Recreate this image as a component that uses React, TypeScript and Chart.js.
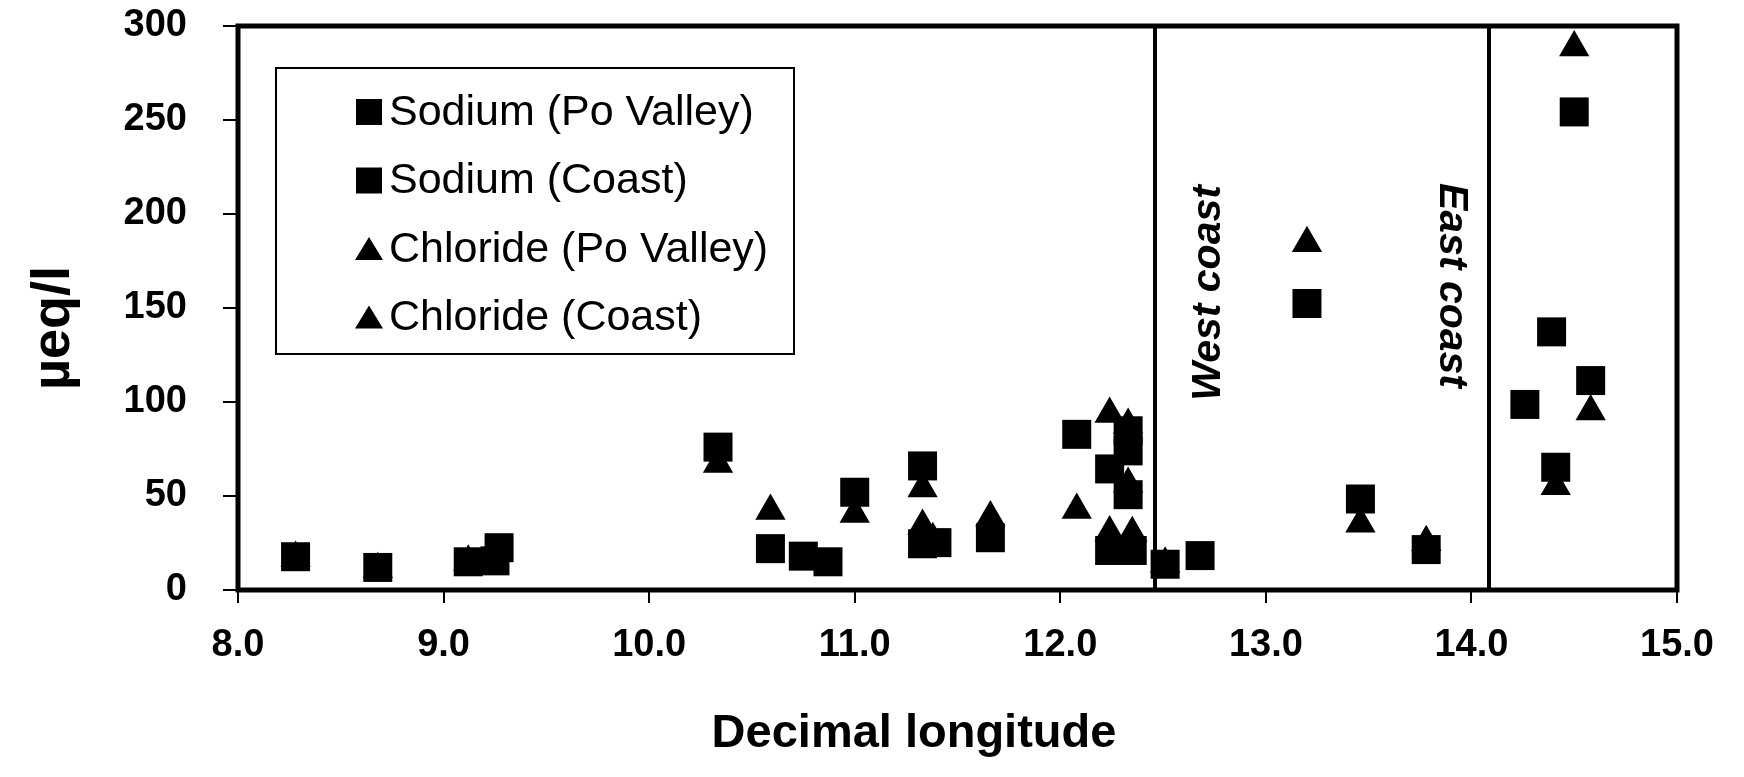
import React, { useEffect, useRef } from 'react';
import { Chart, registerables } from 'chart.js';

Chart.register(...registerables);

const FONT = '"Liberation Sans", Arial, Helvetica, sans-serif';

// Tick values
const X_TICKS = [8, 9, 10, 11, 12, 13, 14, 15];
const Y_TICKS = [0, 50, 100, 150, 200, 250, 300];

// Series: Sodium (Po Valley)
const sodiumPoX = [8.28, 8.68, 9.12, 9.27, 9.25, 10.335, 10.59, 10.75, 10.87, 11.0, 11.33, 11.33, 11.40, 11.66, 12.08, 12.24, 12.24, 12.33, 12.33, 12.33, 12.35];
const sodiumPoY = [17.7, 12, 15, 22.5, 15.5, 76, 22, 18, 15, 52, 66, 24.6, 25.2, 27.8, 82.8, 64.4, 21, 84.7, 74, 50.7, 21];

// Series: Sodium (Coast)
const sodiumCoastX = [12.51, 12.68, 13.2, 13.46, 13.78, 14.26, 14.39, 14.41, 14.5, 14.58];
const sodiumCoastY = [13.7, 18.3, 152.4, 48.4, 21.5, 98.7, 137.3, 65.3, 254.3, 111.4];

// Series: Chloride (Po Valley)
const chloridePoX = [8.28, 8.68, 9.12, 10.335, 10.59, 11.0, 11.33, 11.33, 11.38, 11.66, 12.08, 12.24, 12.33, 12.33, 12.24, 12.35];
const chloridePoY = [17, 11, 15, 67, 42, 40.4, 54, 34, 27, 38.6, 42.5, 93.6, 87.8, 56.4, 30.6, 30.2];

// Series: Chloride (Coast)
const chlorideCoastX = [12.51, 13.2, 13.46, 13.78, 14.41, 14.5, 14.58];
const chlorideCoastY = [14, 184.4, 35.2, 25.4, 55.2, 288.6, 94.9];

// Region dividers and annotations
const DIVIDERS = [12.46, 14.085];
const REGION_LABELS = ['West coast', 'East coast'];
const REGION_LABEL_X = [12.72, 13.9];
const REGION_LABEL_Y = [158, 162];

const SERIES_LABELS = ['Sodium (Po Valley)', 'Sodium (Coast)', 'Chloride (Po Valley)', 'Chloride (Coast)'];
const X_TITLE = 'Decimal longitude';
const Y_TITLE = 'µeq/l';

const toPoints = (xs: number[], ys: number[]) => xs.map((x, i) => ({ x, y: ys[i] }));

function drawMarker(ctx: CanvasRenderingContext2D, style: string, cx: number, cy: number) {
  ctx.beginPath();
  if (style === 'rect') {
    ctx.rect(cx - 13, cy - 13, 26, 26);
  } else {
    ctx.moveTo(cx, cy - 12);
    ctx.lineTo(cx + 14, cy + 11);
    ctx.lineTo(cx - 14, cy + 11);
    ctx.closePath();
  }
  ctx.fill();
}

const decorPlugin = {
  id: 'decor',
  beforeDatasetsDraw(chart: any) {
    const { ctx, chartArea, scales } = chart;
    const xs = scales.x;
    const ys = scales.y;
    ctx.save();
    ctx.strokeStyle = '#000';
    ctx.lineWidth = 4;
    DIVIDERS.forEach((v) => {
      const px = Math.round(xs.getPixelForValue(v));
      ctx.beginPath();
      ctx.moveTo(px, chartArea.top);
      ctx.lineTo(px, chartArea.bottom);
      ctx.stroke();
    });
    ctx.fillStyle = '#000';
    ctx.font = `italic bold 41px ${FONT}`;
    ctx.textAlign = 'center';
    ctx.textBaseline = 'middle';
    REGION_LABELS.forEach((lab, i) => {
      const px = xs.getPixelForValue(REGION_LABEL_X[i]);
      const py = ys.getPixelForValue(REGION_LABEL_Y[i]);
      ctx.save();
      ctx.translate(px, py);
      ctx.rotate(i === 0 ? -Math.PI / 2 : Math.PI / 2);
      ctx.fillText(lab, 0, 0);
      ctx.restore();
    });
    ctx.restore();
  },
  afterDatasetsDraw(chart: any) {
    const { ctx, chartArea } = chart;
    ctx.save();
    // plot frame
    ctx.strokeStyle = '#000';
    ctx.lineWidth = 5;
    ctx.strokeRect(chartArea.left, chartArea.top, chartArea.right - chartArea.left, chartArea.bottom - chartArea.top);
    // legend box
    const lx = 276;
    const ly = 68;
    const lw = 518;
    const lh = 286;
    ctx.fillStyle = '#fff';
    ctx.fillRect(lx, ly, lw, lh);
    ctx.lineWidth = 2;
    ctx.strokeRect(lx, ly, lw, lh);
    ctx.fillStyle = '#000';
    ctx.font = `43px ${FONT}`;
    ctx.textAlign = 'left';
    ctx.textBaseline = 'middle';
    chart.data.datasets.forEach((ds: any, i: number) => {
      const cy = ly + 44 + i * 68.5;
      drawMarker(ctx, ds.pointStyle, 369, cy);
      ctx.fillText(ds.label, 389, cy + 1);
    });
    // axis titles
    ctx.font = `bold 47px ${FONT}`;
    ctx.textAlign = 'center';
    ctx.fillText(X_TITLE, 914, 734);
    ctx.save();
    ctx.translate(54, 328);
    ctx.rotate(-Math.PI / 2);
    ctx.font = `bold 54px ${FONT}`;
    ctx.fillText(Y_TITLE, 0, 0);
    ctx.restore();
    ctx.restore();
  },
};

const zeroPad = (s: any) => {
  s.paddingTop = 0;
  s.paddingBottom = 0;
  s.paddingLeft = 0;
  s.paddingRight = 0;
};

export default function App() {
  const canvasRef = useRef<HTMLCanvasElement | null>(null);

  useEffect(() => {
    const canvas = canvasRef.current;
    if (!canvas) return;
    const tickFont = { family: FONT, size: 38, weight: 'bold' as const };
    const mk = (label: string, xs: number[], ys: number[], style: string, radius: number) => ({
      label,
      data: toPoints(xs, ys),
      pointStyle: style,
      pointRadius: radius,
      pointHoverRadius: radius,
      backgroundColor: '#000',
      borderColor: '#000',
      borderWidth: 0,
      showLine: false,
    });
    const chart = new Chart(canvas, {
      type: 'scatter',
      data: {
        datasets: [
          mk(SERIES_LABELS[0], sodiumPoX, sodiumPoY, 'rect', 20.5),
          mk(SERIES_LABELS[1], sodiumCoastX, sodiumCoastY, 'rect', 20.5),
          mk(SERIES_LABELS[2], chloridePoX, chloridePoY, 'triangle', 17.5),
          mk(SERIES_LABELS[3], chlorideCoastX, chlorideCoastY, 'triangle', 17.5),
        ],
      },
      options: {
        responsive: false,
        animation: false,
        devicePixelRatio: 1,
        layout: { padding: { left: 0, top: 26, right: 67, bottom: 0 } },
        plugins: {
          legend: { display: false },
          tooltip: { enabled: false },
        },
        scales: {
          x: {
            type: 'linear',
            min: 8,
            max: 15,
            afterBuildTicks: (s: any) => {
              s.ticks = X_TICKS.map((v) => ({ value: v }));
            },
            afterFit: (s: any) => {
              s.height = 187;
              zeroPad(s);
            },
            ticks: {
              font: tickFont,
              color: '#000',
              padding: 20,
              maxRotation: 0,
              autoSkip: false,
              callback: (v: any) => Number(v).toFixed(1),
            },
            grid: { display: true, drawOnChartArea: false, drawTicks: true, tickLength: 13, color: '#000', lineWidth: 2 },
            border: { display: false },
            title: { display: false },
          },
          y: {
            type: 'linear',
            min: 0,
            max: 300,
            afterBuildTicks: (s: any) => {
              s.ticks = Y_TICKS.map((v) => ({ value: v }));
            },
            afterFit: (s: any) => {
              s.width = 238;
              zeroPad(s);
            },
            ticks: {
              font: tickFont,
              color: '#000',
              padding: 36,
              callback: (v: any) => String(v),
            },
            grid: { display: true, drawOnChartArea: false, drawTicks: true, tickLength: 15, color: '#000', lineWidth: 2 },
            border: { display: false },
            title: { display: false },
          },
        },
      },
      plugins: [decorPlugin],
    } as any);
    return () => {
      chart.destroy();
    };
  }, []);

  return (
    <div style={{ position: 'fixed', left: 0, top: 0, width: 1744, height: 777, background: '#fff' }}>
      <canvas ref={canvasRef} width={1744} height={777} style={{ display: 'block', width: 1744, height: 777 }} />
    </div>
  );
}
